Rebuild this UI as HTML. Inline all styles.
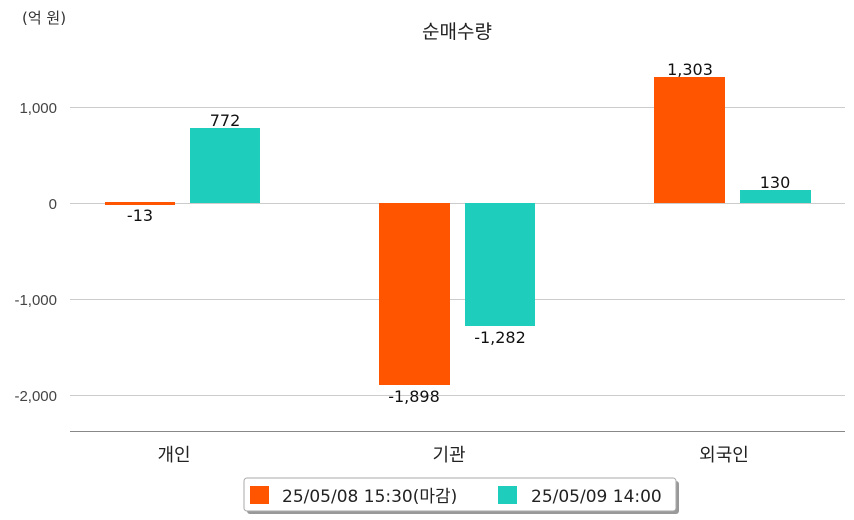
<!DOCTYPE html><html><head><meta charset="utf-8"><style>body{margin:0;background:#fff}svg{display:block;font-family:"DejaVu Sans","Noto Sans CJK KR",sans-serif}</style></head><body>
<svg width="854" height="520" xmlns="http://www.w3.org/2000/svg">
<text x="22" y="23" font-size="15" fill="#333">(억 원)</text>
<text x="457" y="38" font-size="19" fill="#222" text-anchor="middle">순매수량</text>
<g stroke="#ccc" stroke-width="1">
<line x1="70" y1="107.5" x2="845" y2="107.5"/><line x1="70" y1="203.5" x2="845" y2="203.5"/>
<line x1="70" y1="299.5" x2="845" y2="299.5"/><line x1="70" y1="395.5" x2="845" y2="395.5"/></g>
<line x1="70" y1="431.5" x2="845" y2="431.5" stroke="#888"/>
<g font-size="15" fill="#444" text-anchor="end" font-family="Liberation Sans, sans-serif">
<text x="57" y="113">1,000</text><text x="57" y="209">0</text><text x="57" y="305">-1,000</text><text x="57" y="401">-2,000</text></g>
<g fill="#ff5400"><rect x="105" y="202" width="70" height="3"/><rect x="379" y="203" width="71" height="182"/><rect x="654" y="77" width="71" height="126"/></g>
<g fill="#1ecdbc"><rect x="190" y="128" width="70" height="75"/><rect x="465" y="203" width="70" height="123"/><rect x="740" y="190" width="71" height="13"/></g>
<g font-size="16" fill="#111" text-anchor="middle">
<text x="140" y="221">-13</text><text x="225" y="126">772</text>
<text x="414" y="402">-1,898</text><text x="500" y="343">-1,282</text>
<text x="690" y="75">1,303</text><text x="775" y="188">130</text></g>
<g font-size="18" fill="#222" text-anchor="middle">
<text x="174" y="461">개인</text><text x="449" y="461">기관</text><text x="724" y="461">외국인</text></g>
<rect x="247" y="481" width="432" height="33" rx="3" fill="#999"/>
<rect x="244" y="478" width="432" height="33" rx="3" fill="#fff" stroke="#aaa"/>
<rect x="250" y="486" width="19" height="18" fill="#ff5400"/>
<rect x="498" y="486" width="19" height="18" fill="#1ecdbc"/>
<g font-size="17" fill="#222"><text x="282" y="502">25/05/08 15:30(마감)</text><text x="531" y="502">25/05/09 14:00</text></g>
</svg></body></html>
